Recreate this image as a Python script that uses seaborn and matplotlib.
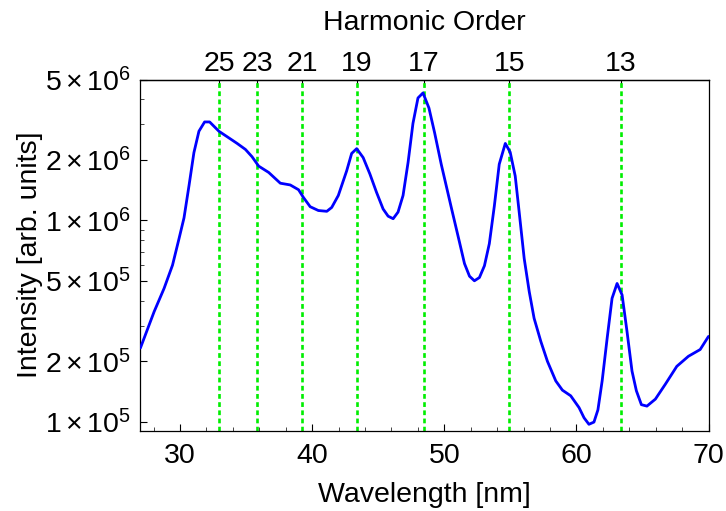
import numpy as np
import pandas as pd
import matplotlib
matplotlib.use("Agg")
import matplotlib.pyplot as plt
from matplotlib.ticker import FixedLocator, MultipleLocator, LogLocator, NullFormatter, FixedFormatter
import seaborn as sns

# ---- data ----
wavelength = [27.0, 28.04, 28.79, 29.43, 29.92, 30.30, 30.68, 31.05, 31.43, 31.86,
              32.24, 32.94, 33.57, 34.32, 34.95, 35.45, 35.95, 36.71, 37.59, 38.34,
              38.97, 39.34, 39.85, 40.47, 41.11, 41.48, 41.98, 42.61, 42.99, 43.37,
              43.86, 44.37, 44.87, 45.37, 45.75, 46.13, 46.50, 46.88, 47.26, 47.63,
              48.01, 48.39, 48.84, 49.27, 49.77, 50.53, 51.15, 51.53, 51.91, 52.28,
              52.66, 53.04, 53.41, 53.79, 54.16, 54.62, 54.99, 55.37, 55.67, 56.05,
              56.43, 56.80, 57.31, 57.81, 58.44, 58.94, 59.57, 60.20, 60.58, 60.95,
              61.33, 61.63, 61.95, 62.33, 62.70, 63.08, 63.46, 63.83, 64.21, 64.54,
              64.92, 65.34, 65.98, 66.73, 67.60, 68.48, 69.37, 69.92, 70.0]
intensity = [2.33e5, 3.53e5, 4.60e5, 6.0e5, 8.11e5, 1.03e6, 1.49e6, 2.17e6, 2.77e6, 3.08e6,
             3.08e6, 2.77e6, 2.60e6, 2.41e6, 2.25e6, 2.07e6, 1.86e6, 1.73e6, 1.53e6, 1.50e6,
             1.42e6, 1.30e6, 1.17e6, 1.12e6, 1.11e6, 1.16e6, 1.33e6, 1.76e6, 2.15e6, 2.27e6,
             2.05e6, 1.70e6, 1.38e6, 1.14e6, 1.05e6, 1.02e6, 1.10e6, 1.33e6, 1.94e6, 3.03e6,
             4.05e6, 4.29e6, 3.61e6, 2.72e6, 1.90e6, 1.16e6, 7.81e5, 6.11e5, 5.29e5, 5.02e5,
             5.21e5, 5.96e5, 7.67e5, 1.18e6, 1.90e6, 2.41e6, 2.18e6, 1.66e6, 1.10e6, 6.47e5,
             4.44e5, 3.27e5, 2.51e5, 2.00e5, 1.60e5, 1.44e5, 1.35e5, 1.18e5, 1.05e5, 9.75e4,
             1.0e5, 1.15e5, 1.60e5, 2.61e5, 4.11e5, 4.87e5, 4.27e5, 2.82e5, 1.79e5, 1.43e5,
             1.22e5, 1.20e5, 1.30e5, 1.54e5, 1.89e5, 2.12e5, 2.29e5, 2.61e5, 2.66e5]

harmonic_orders = [25, 23, 21, 19, 17, 15, 13]
harmonic_wavelengths = [32.96, 35.83, 39.24, 43.37, 48.47, 54.93, 63.38]

y_ticks = [1e5, 2e5, 5e5, 1e6, 2e6, 5e6]
y_tick_labels = [r"$1\times10^{5}$", r"$2\times10^{5}$", r"$5\times10^{5}$",
                 r"$1\times10^{6}$", r"$2\times10^{6}$", r"$5\times10^{6}$"]
x_ticks = [30, 40, 50, 60, 70]

df = pd.DataFrame({"wavelength": wavelength, "intensity": intensity})

# ---- style ----
sns.set_theme(style="ticks")
plt.rcParams["font.family"] = ["Liberation Sans", "DejaVu Sans"]
plt.rcParams["mathtext.fontset"] = "custom"
plt.rcParams["mathtext.rm"] = "Liberation Sans"
plt.rcParams["mathtext.it"] = "Liberation Sans:italic"
plt.rcParams["mathtext.bf"] = "Liberation Sans:bold"
plt.rcParams["axes.linewidth"] = 0.9
plt.rcParams["axes.edgecolor"] = "black"

FS = 20.5

fig = plt.figure(figsize=(7.26, 5.11), dpi=100)
ax = fig.add_axes([0.1934, 0.1571, 0.7825, 0.6873])

for xv in harmonic_wavelengths:
    ax.axvline(xv, color="#00ee00", lw=1.9, dashes=(1.8, 1.3), zorder=1)

sns.lineplot(data=df, x="wavelength", y="intensity", ax=ax, color="#0000ff",
             lw=2.0, sort=False, estimator=None, zorder=3)

ax.set_yscale("log")
ax.set_xlim(27, 70)
ax.set_ylim(9.06e4, 5e6)

ax.yaxis.set_major_locator(FixedLocator(y_ticks))
ax.yaxis.set_major_formatter(FixedFormatter(y_tick_labels))
ax.yaxis.set_minor_locator(LogLocator(base=10, subs=np.arange(2, 10)))
ax.yaxis.set_minor_formatter(NullFormatter())
ax.xaxis.set_major_locator(FixedLocator(x_ticks))
ax.xaxis.set_minor_locator(MultipleLocator(2))

ax.tick_params(axis="both", which="major", direction="in", length=5, width=0.8,
               labelsize=FS, colors="black", top=False, right=False)
ax.tick_params(axis="both", which="minor", direction="in", length=3, width=0.6,
               top=False, right=False)
ax.tick_params(axis="x", which="major", pad=9)
ax.tick_params(axis="y", which="major", pad=7)

ax.set_xlabel("Wavelength [nm]", fontsize=FS, color="black", labelpad=9)
ax.set_ylabel("Intensity [arb. units]", fontsize=FS, color="black", labelpad=1)

for s in ax.spines.values():
    s.set_visible(True)
    s.set_color("black")

secax = ax.secondary_xaxis("top")
secax.set_xticks(harmonic_wavelengths)
secax.set_xticklabels([str(h) for h in harmonic_orders])
secax.xaxis.set_minor_locator(FixedLocator([]))
secax.tick_params(axis="x", which="major", direction="in", length=4, width=0.8,
                  labelsize=FS, colors="black", pad=2)
secax.set_xlabel("Harmonic Order", fontsize=FS, color="black", labelpad=15)

fig.savefig("out.png", dpi=100)
